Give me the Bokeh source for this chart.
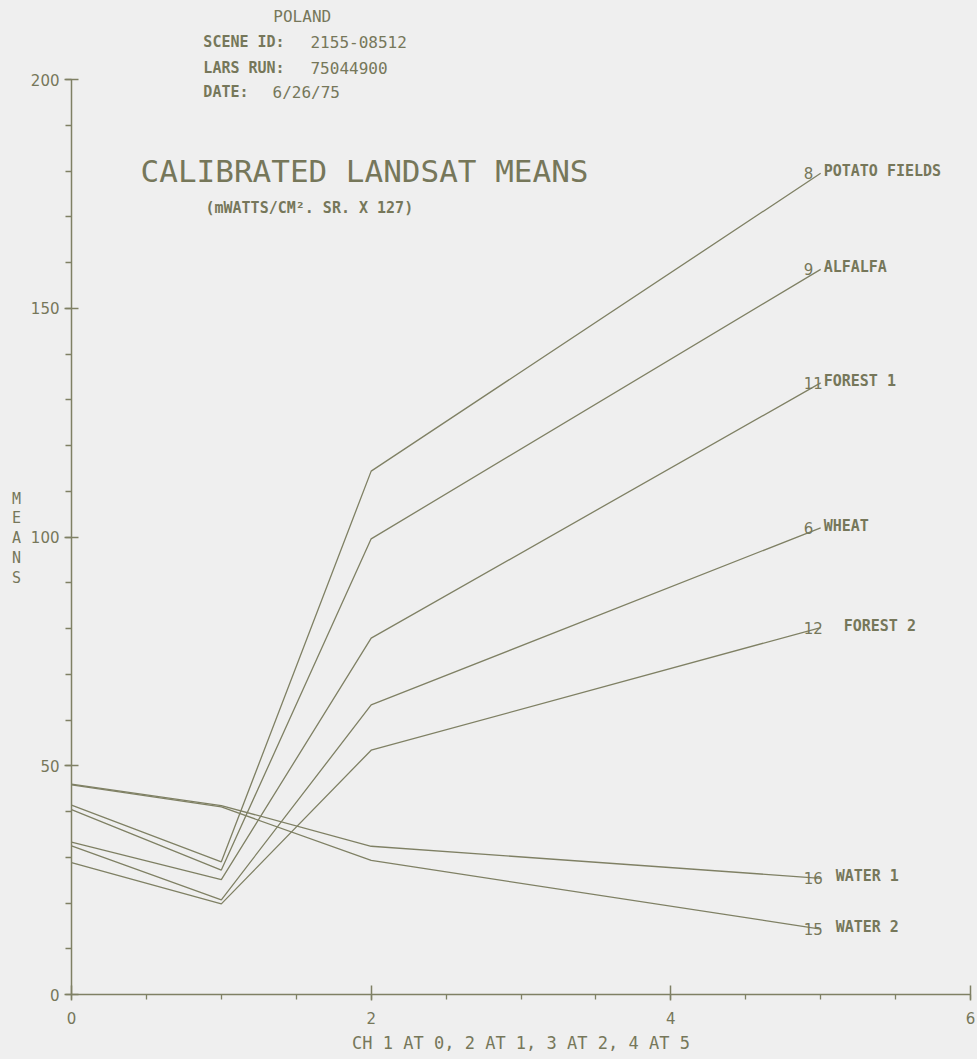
from bokeh.plotting import figure
from bokeh.layouts import row
from bokeh.models import FixedTicker, Label, Range1d
from bokeh.embed import file_html
from bokeh.resources import INLINE

# Landsat channel positions on the x axis (CH 1 at 0, 2 at 1, 3 at 2, 4 at 5)
channel_x = [0, 1, 2, 5]

class_ids = ["8", "9", "11", "6", "12", "16", "15"]
class_names = ["POTATO FIELDS", "ALFALFA", "FOREST 1", "WHEAT", "FOREST 2", "WATER 1", "WATER 2"]

potato_fields = [41.4, 29.0, 114.4, 179.5]
alfalfa = [40.4, 27.2, 99.6, 158.5]
forest_1 = [33.3, 25.1, 77.9, 133.7]
wheat = [32.5, 20.7, 63.3, 102.0]
forest_2 = [28.8, 19.8, 53.4, 80.2]
water_1 = [46.0, 41.3, 32.4, 25.4]
water_2 = [45.8, 41.0, 29.3, 14.3]

series = [potato_fields, alfalfa, forest_1, wheat, forest_2, water_1, water_2]

x_ticks = [0, 2, 4, 6]
y_ticks = [0, 50, 100, 150, 200]
y_title = "MEANS"

BG = "#efefef"
INK = "#76775a"
LINE = "#7f8064"
MONO = "DejaVu Sans Mono"

H = 1059
Y_TOP = 217.27          # frame reaches the page top so the header sits above the 200 tick
BORDER_BOTTOM = 65
SIDE_W = 24

# main chart; the y axis line is bounded to 0..200
p = figure(width=977 - SIDE_W, height=H, output_backend="svg", toolbar_location=None,
           x_range=Range1d(0, 6), y_range=Range1d(0, Y_TOP),
           min_border_left=71 - SIDE_W, min_border_right=7, min_border_top=0,
           min_border_bottom=BORDER_BOTTOM)
p.background_fill_color = BG
p.border_fill_color = BG
p.outline_line_color = None
p.grid.visible = False

# x axis
p.xaxis.ticker = FixedTicker(ticks=x_ticks, minor_ticks=[i * 0.5 for i in range(13)])
p.xaxis.axis_label = "CH 1 AT 0, 2 AT 1, 3 AT 2, 4 AT 5"
p.xaxis.axis_label_text_font = MONO
p.xaxis.axis_label_text_font_size = "17px"
p.xaxis.axis_label_text_font_style = "normal"
p.xaxis.axis_label_text_color = INK
p.xaxis.axis_label_standoff = 6
p.xaxis.major_tick_in = 9
p.xaxis.major_tick_out = 6
p.xaxis.minor_tick_in = 0
p.xaxis.minor_tick_out = 5
p.xaxis.major_label_standoff = 11

# y axis
p.yaxis.bounds = (0, 200)
p.yaxis.ticker = FixedTicker(ticks=y_ticks, minor_ticks=list(range(0, 201, 10)))
p.yaxis.major_tick_in = 7
p.yaxis.major_tick_out = 7
p.yaxis.minor_tick_in = 0
p.yaxis.minor_tick_out = 6
p.yaxis.major_label_standoff = 5

for ax in (p.xaxis, p.yaxis):
    ax.axis_line_color = LINE
    ax.axis_line_width = 1.5
    ax.major_tick_line_color = LINE
    ax.major_tick_line_width = 1.5
    ax.minor_tick_line_color = LINE
    ax.minor_tick_line_width = 1.3
    ax.major_label_text_font = "DejaVu Sans"
    ax.major_label_text_font_size = "15px"
    ax.major_label_text_color = INK

# class mean curves with their end labels
num_dx = -17
name_dx = {"12": 23, "16": 15, "15": 15}
for cid, name, ys in zip(class_ids, class_names, series):
    p.line(channel_x, ys, line_color=LINE, line_width=1.3)
    xe, ye = channel_x[-1], ys[-1]
    p.add_layout(Label(x=xe, y=ye, text=cid, x_offset=num_dx, y_offset=0,
                       text_font="DejaVu Sans", text_font_size="15px",
                       text_color=INK, text_align="left", text_baseline="alphabetic"))
    p.add_layout(Label(x=xe, y=ye, text=name, x_offset=name_dx.get(cid, 3), y_offset=2,
                       text_font=MONO, text_font_size="15px", text_font_style="bold",
                       text_color=INK, text_align="left", text_baseline="middle"))

# header block
def note(x, y, text, size="16px", style="normal", align="left"):
    p.add_layout(Label(x=x, y=y, text=text, text_font=MONO, text_font_size=size,
                       text_font_style=style, text_color=INK, text_align=align,
                       text_baseline="middle"))

note(1.54, 213.8, "POLAND", align="center")
note(0.88, 208.1, "SCENE ID:", size="15px", style="bold")
note(1.595, 208.1, "2155-08512")
note(0.88, 202.6, "LARS RUN:", size="15px", style="bold")
note(1.595, 202.6, "75044900")
note(0.88, 197.2, "DATE:", size="15px", style="bold")
note(1.342, 197.2, "6/26/75")
note(0.461, 180.1, "CALIBRATED LANDSAT MEANS", size="31px")
note(0.894, 172.0, "(mWATTS/CM². SR. X 127)", size="15px", style="bold")

# narrow strip at the left carrying the stacked y-axis title
side = figure(width=SIDE_W, height=H, output_backend="svg", toolbar_location=None,
              x_range=Range1d(0, SIDE_W), y_range=p.y_range,
              x_axis_type=None, y_axis_type=None,
              min_border_left=0, min_border_right=0, min_border_top=0,
              min_border_bottom=BORDER_BOTTOM)
side.background_fill_color = BG
side.border_fill_color = BG
side.outline_line_color = None
side.grid.visible = False
for i, ch in enumerate(y_title):
    side.add_layout(Label(x=16, y=108.4 - i * 4.33, text=ch, text_font=MONO,
                          text_font_size="15px", text_color=INK, text_align="center",
                          text_baseline="middle"))

layout = row(side, p, spacing=0, styles={"background-color": BG})
open("out.html", "w").write(file_html(layout, INLINE))
